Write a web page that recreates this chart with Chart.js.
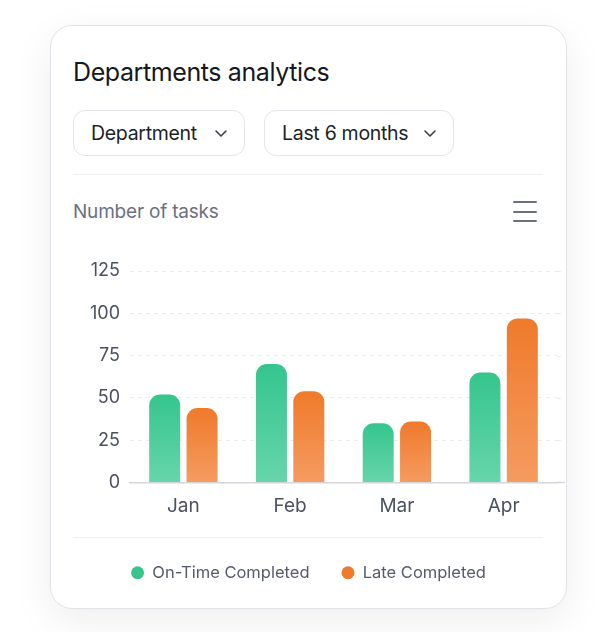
<!DOCTYPE html>
<html><head><meta charset="utf-8">
<script src="https://cdn.jsdelivr.net/npm/chart.js@4.4.1/dist/chart.umd.min.js"></script>
<style>
html,body{margin:0;padding:0;background:#fff;width:616px;height:632px;overflow:hidden;font-family:Inter,"Noto Sans",sans-serif;}
.card{position:absolute;left:50px;top:25px;width:515px;height:582px;border:1px solid #e2e3e9;border-radius:22px;background:#fff;box-shadow:0 12px 40px rgba(0,0,0,0.07);}
.abs{position:absolute;}
.title{left:73px;top:56px;font-size:25px;color:#16181d;letter-spacing:-0.4px;line-height:32px;white-space:nowrap;}
.dd{top:110px;height:44px;border:1px solid #e3e4e9;border-radius:12px;background:#fff;box-sizing:content-box;font-size:19.5px;color:#1c1f26;line-height:44px;white-space:nowrap;letter-spacing:-0.3px;}
.dd span{position:absolute;left:17px;top:0;}
.dd svg{position:absolute;top:18px;}
.hr{left:73px;width:470px;height:1px;background:#eeeff2;}
.sub{left:73px;top:199px;font-size:19px;color:#6b7180;line-height:26px;white-space:nowrap;letter-spacing:-0.2px;}
.ham{left:513px;width:24px;height:2px;border-radius:1px;background:#6b7180;}
#wrap{position:absolute;left:60px;top:240px;width:505px;height:392px;}
</style></head>
<body>
<div class="card"></div>
<div class="abs title">Departments analytics</div>
<div class="abs dd" style="left:73px;width:170px;"><span>Department</span>
<svg style="left:140px" width="14" height="9" viewBox="0 0 14 9"><path d="M2 2 L7 7 L12 2" fill="none" stroke="#3a3f4a" stroke-width="1.6" stroke-linecap="round" stroke-linejoin="round"/></svg></div>
<div class="abs dd" style="left:264px;width:188px;"><span>Last 6 months</span>
<svg style="left:158px" width="14" height="9" viewBox="0 0 14 9"><path d="M2 2 L7 7 L12 2" fill="none" stroke="#3a3f4a" stroke-width="1.6" stroke-linecap="round" stroke-linejoin="round"/></svg></div>
<div class="abs hr" style="top:174px"></div>
<div class="abs sub">Number of tasks</div>
<div class="abs ham" style="top:201px"></div>
<div class="abs ham" style="top:211px"></div>
<div class="abs ham" style="top:220px"></div>
<div class="abs hr" style="top:537px"></div>
<div id="wrap"><canvas id="c"></canvas></div>
<script>
const months = ['Jan', 'Feb', 'Mar', 'Apr'];
const onTimeCompleted = [52, 70, 35, 65];
const lateCompleted = [44, 54, 36, 97];
const seriesNames = ['On-Time Completed', 'Late Completed'];
const yMin = 0, yMax = 125, yStep = 25;

function barGradient(topColor, bottomColor) {
  return (ctx) => {
    const chart = ctx.chart;
    if (!chart.chartArea || !ctx.parsed) return topColor;
    const ys = chart.scales.y;
    const top = ys.getPixelForValue(ctx.parsed.y);
    const bottom = ys.getPixelForValue(0);
    if (!isFinite(top) || !isFinite(bottom) || top === bottom) return topColor;
    const g = chart.ctx.createLinearGradient(0, top, 0, bottom);
    g.addColorStop(0, topColor);
    g.addColorStop(1, bottomColor);
    return g;
  };
}

// extends the y grid lines and the x axis line a few pixels past the plot's right edge
const extendGrid = {
  id: 'extendGrid',
  beforeDatasetsDraw(chart) {
    const {ctx, chartArea, scales} = chart;
    const endX = chartArea.right + 6;
    ctx.save();
    ctx.strokeStyle = '#ececf0';
    ctx.lineWidth = 1;
    ctx.setLineDash([4, 4]);
    scales.y.ticks.forEach(t => {
      if (t.value === 0) return;
      const y = Math.round(scales.y.getPixelForValue(t.value)) + 0.5;
      ctx.beginPath(); ctx.moveTo(chartArea.right, y); ctx.lineTo(endX, y); ctx.stroke();
    });
    ctx.setLineDash([]);
    ctx.strokeStyle = '#d4d5da';
    ctx.lineWidth = 1.5;
    const y0 = scales.y.getPixelForValue(0);
    ctx.beginPath(); ctx.moveTo(chartArea.right, y0); ctx.lineTo(endX + 2, y0); ctx.stroke();
    ctx.restore();
  }
};

new Chart(document.getElementById('c'), {
  type: 'bar',
  data: {
    labels: months,
    datasets: [
      { label: seriesNames[0], data: onTimeCompleted,
        backgroundColor: barGradient('#35c58d', '#67d5ab'),
        borderRadius: {topLeft: 11, topRight: 11, bottomLeft: 0, bottomRight: 0}, borderSkipped: false,
        categoryPercentage: 0.7, barPercentage: 0.83 },
      { label: seriesNames[1], data: lateCompleted,
        backgroundColor: barGradient('#ef7a2b', '#f59b60'),
        borderRadius: {topLeft: 11, topRight: 11, bottomLeft: 0, bottomRight: 0}, borderSkipped: false,
        categoryPercentage: 0.7, barPercentage: 0.83 }
    ]
  },
  plugins: [extendGrid],
  options: {
    responsive: true, maintainAspectRatio: false, animation: false,
    layout: { padding: { top: 31, right: 8, bottom: 41, left: 0 } },
    plugins: {
      tooltip: { enabled: false },
      legend: {
        position: 'bottom',
        labels: {
          usePointStyle: true, pointStyle: 'circle', pointStyleWidth: 13, boxWidth: 13, boxHeight: 9.2,
          padding: 32, color: '#555b6a',
          font: { family: 'Inter', size: 16.5 },
          generateLabels: (chart) => chart.data.datasets.map((d, i) => ({
            text: d.label, fillStyle: i === 0 ? '#35c58d' : '#ef7a2b', strokeStyle: 'transparent',
            lineWidth: 0, pointStyle: 'circle', datasetIndex: i, hidden: false, fontColor: '#555b6a'
          }))
        }
      }
    },
    scales: {
      x: {
        grid: { display: false, drawTicks: false },
        border: { display: true, color: '#d4d5da', width: 1.5 },
        ticks: { color: '#4b5160', font: { family: 'Inter', size: 19 }, padding: 12 },
        afterFit: (s) => { s.height = 50; }
      },
      y: {
        min: yMin, max: yMax,
        grid: { color: '#ececf0', drawTicks: false, lineWidth: 1 },
        border: { display: false, dash: [4, 4] },
        ticks: { stepSize: yStep, color: '#4b5160', font: { family: 'Inter', size: 18 }, padding: 10 },
        afterFit: (s) => { s.width = 70; }
      }
    }
  }
});
</script>
</body></html>
